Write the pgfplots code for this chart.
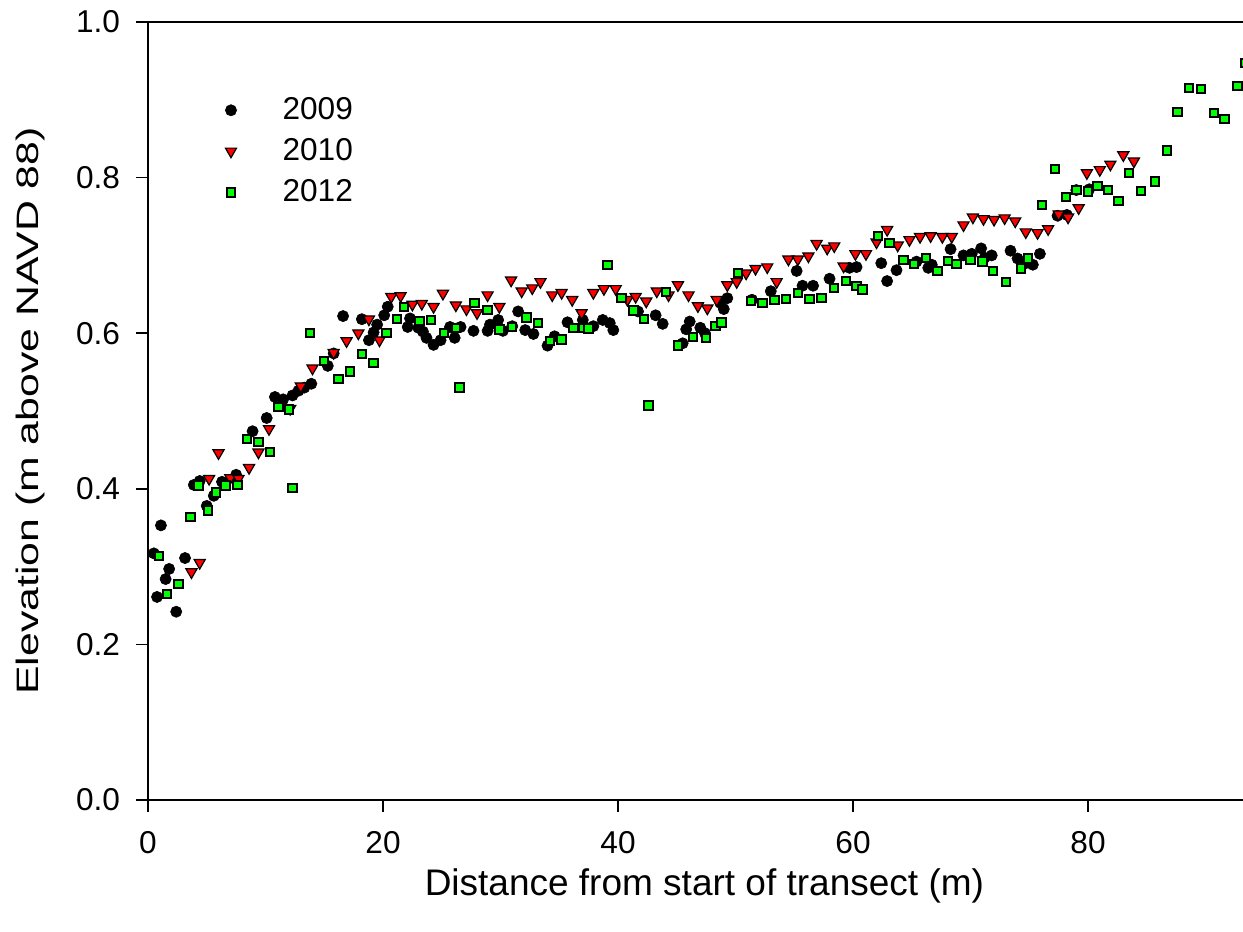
\documentclass[border=0pt]{standalone}
\usepackage{pgfplots}
\pgfplotsset{compat=1.18}
\usepackage{fontspec}
\setmainfont{Liberation Sans}

% Transect elevation survey, three campaigns
\pgfplotstableread{
x y
0.5 0.317
0.77 0.261
1.1 0.353
1.5 0.284
1.8 0.297
2.4 0.242
3.15 0.311
3.9 0.405
4.4 0.410
5.0 0.378
5.6 0.391
6.3 0.409
7.5 0.418
8.9 0.474
10.1 0.491
10.8 0.518
11.5 0.515
12.3 0.520
12.8 0.526
13.3 0.530
13.9 0.535
15.3 0.558
15.8 0.574
16.6 0.622
18.2 0.618
18.8 0.591
19.2 0.601
19.5 0.611
20.1 0.623
20.4 0.634
22.1 0.608
22.3 0.619
23.0 0.607
23.4 0.602
23.7 0.594
24.3 0.585
24.9 0.591
25.7 0.608
26.1 0.594
26.6 0.608
27.7 0.603
28.9 0.603
29.1 0.611
29.8 0.617
30.2 0.603
31.0 0.609
31.5 0.628
32.1 0.604
32.8 0.599
34.0 0.584
34.6 0.596
35.7 0.614
37.0 0.617
37.1 0.609
37.9 0.609
38.7 0.617
39.3 0.613
39.6 0.604
41.7 0.628
43.2 0.623
43.8 0.612
45.5 0.587
45.8 0.605
46.1 0.615
47.0 0.607
47.4 0.600
48.7 0.639
49.0 0.631
49.3 0.645
51.4 0.643
53.0 0.654
55.2 0.680
55.7 0.661
56.6 0.661
58.0 0.670
59.7 0.684
60.3 0.685
62.4 0.690
62.9 0.667
63.7 0.681
65.4 0.692
66.4 0.684
66.7 0.688
68.3 0.708
69.4 0.700
70.1 0.702
70.9 0.709
71.2 0.697
71.8 0.700
73.4 0.706
74.0 0.696
74.7 0.690
75.3 0.688
75.9 0.702
77.4 0.751
78.2 0.752
79.0 0.784
80.1 0.785
}\tableA

\pgfplotstableread{
x y
3.7 0.293
4.4 0.305
5.2 0.413
6.0 0.446
7.0 0.414
7.7 0.413
8.6 0.427
9.4 0.447
10.3 0.477
12.1 0.503
13.0 0.532
14.0 0.555
15.8 0.575
16.9 0.590
17.9 0.600
18.8 0.618
19.7 0.591
20.7 0.647
21.5 0.648
22.5 0.637
23.3 0.638
24.3 0.634
25.1 0.651
26.2 0.636
27.1 0.631
28.0 0.626
28.9 0.649
29.9 0.634
30.9 0.668
31.8 0.654
32.7 0.658
33.4 0.666
34.4 0.649
35.2 0.652
36.1 0.643
36.9 0.626
37.9 0.652
38.8 0.657
39.8 0.657
40.8 0.643
41.5 0.647
42.4 0.641
43.3 0.654
44.3 0.649
45.1 0.662
46.0 0.649
46.8 0.635
47.6 0.632
48.4 0.643
49.3 0.662
50.1 0.666
50.9 0.677
51.7 0.683
52.7 0.685
53.5 0.666
54.5 0.695
55.3 0.695
56.2 0.699
56.9 0.715
57.8 0.709
58.4 0.712
59.2 0.686
60.2 0.702
61.1 0.702
62.0 0.717
62.9 0.733
63.8 0.713
64.8 0.720
65.7 0.724
66.6 0.725
67.6 0.724
68.4 0.724
69.4 0.739
70.2 0.749
71.1 0.747
72.0 0.746
72.9 0.748
73.8 0.744
74.7 0.730
75.7 0.729
76.6 0.734
77.5 0.753
78.3 0.749
79.2 0.761
79.9 0.806
81.0 0.810
81.9 0.817
83.0 0.829
83.9 0.821
}\tableB

\pgfplotstableread{
x y
0.94 0.314
1.6 0.265
2.6 0.278
3.6 0.364
4.3 0.404
5.1 0.372
5.8 0.395
6.6 0.404
7.6 0.405
8.4 0.464
9.4 0.460
10.4 0.447
11.1 0.505
12.0 0.502
12.3 0.401
13.8 0.600
15.0 0.564
16.2 0.541
17.2 0.551
18.2 0.573
19.2 0.562
20.3 0.600
21.2 0.618
21.8 0.634
23.1 0.616
24.1 0.617
25.2 0.600
26.2 0.607
26.5 0.530
27.8 0.639
28.9 0.630
29.9 0.605
31.0 0.608
32.2 0.620
33.2 0.613
34.2 0.590
35.2 0.592
36.2 0.607
37.0 0.607
37.5 0.606
39.1 0.688
40.3 0.645
41.3 0.629
42.2 0.618
42.6 0.507
44.1 0.653
45.1 0.584
46.4 0.595
47.5 0.594
48.3 0.609
48.8 0.614
50.2 0.677
51.3 0.641
52.3 0.639
53.3 0.643
54.3 0.644
55.3 0.652
56.3 0.644
57.3 0.645
58.4 0.658
59.4 0.667
60.3 0.661
60.8 0.656
62.1 0.725
63.1 0.716
64.3 0.694
65.2 0.689
66.2 0.697
67.2 0.680
68.1 0.693
68.8 0.689
70.0 0.694
71.0 0.692
71.9 0.680
73.0 0.666
74.3 0.683
74.9 0.696
76.1 0.765
77.2 0.811
78.1 0.775
79.0 0.784
80.0 0.782
80.8 0.789
81.7 0.784
82.6 0.770
83.5 0.806
84.5 0.783
85.7 0.795
86.7 0.835
87.6 0.884
88.6 0.915
89.6 0.914
90.7 0.883
91.6 0.875
92.7 0.918
93.4 0.947
}\tableC

\begin{document}
\begin{tikzpicture}
\begin{axis}[
  name=ax,
  scale only axis,
  width=556.4pt, height=389pt,
  xmin=0, xmax=94.7, ymin=0, ymax=1,
  xtick={0,20,40,60,80},
  ytick={0,0.2,0.4,0.6,0.8,1.0},
  tick align=outside, tick pos=left,
  major tick length=6pt,
  axis line style={line width=0.85pt},
  every tick/.style={line width=0.85pt, black},
  /pgf/number format/assume math mode=true,
  tick label style={font=\fontsize{15.8}{18}\selectfont},
  yticklabel style={xshift=-4.5pt, /pgf/number format/.cd, fixed, fixed zerofill, precision=1},
  xticklabel style={yshift=-6pt},
  xlabel={Distance from start of transect (m)},
  ylabel={\scalebox{1.38}[1]{Elevation (m above NAVD 88)}},
  every axis x label/.style={at={(axis description cs:0.5,-0.1107)}, anchor=center,
    font=\fontsize{18.5}{21}\selectfont},
  every axis y label/.style={at={(axis description cs:-0.106,0.5)}, rotate=90, anchor=center,
    font=\fontsize{15.5}{18}\selectfont},
  legend style={at={(axis description cs:0.0638,0.916)}, anchor=north west,
    draw=none, fill=none, inner sep=3pt,
    font=\fontsize{15.8}{18}\selectfont,
    nodes={inner sep=2pt}, row sep=4pt,
    /tikz/every odd column/.append style={column sep=21pt}},
  legend cell align=left,
]
\addplot[only marks, mark=*, mark size=2.8pt,
  mark options={fill=black, draw=black, line width=0.3pt}] table[x=x, y=y] {\tableA};
\addlegendentry{2009}
\addplot[only marks, mark=triangle*, mark size=3.2pt,
  mark options={rotate=180, fill=red, draw=black, line width=0.6pt}] table[x=x, y=y] {\tableB};
\addlegendentry{2010}
\addplot[only marks, mark=square*, mark size=2.1pt,
  mark options={fill=green, draw=black, line width=1pt}] table[x=x, y=y] {\tableC};
\addlegendentry{2012}
\end{axis}
\pgfresetboundingbox
\path ([shift={(-74pt,-66pt)}]ax.south west) rectangle ([shift={(547.5pt,400pt)}]ax.south west);
\end{tikzpicture}
\end{document}
